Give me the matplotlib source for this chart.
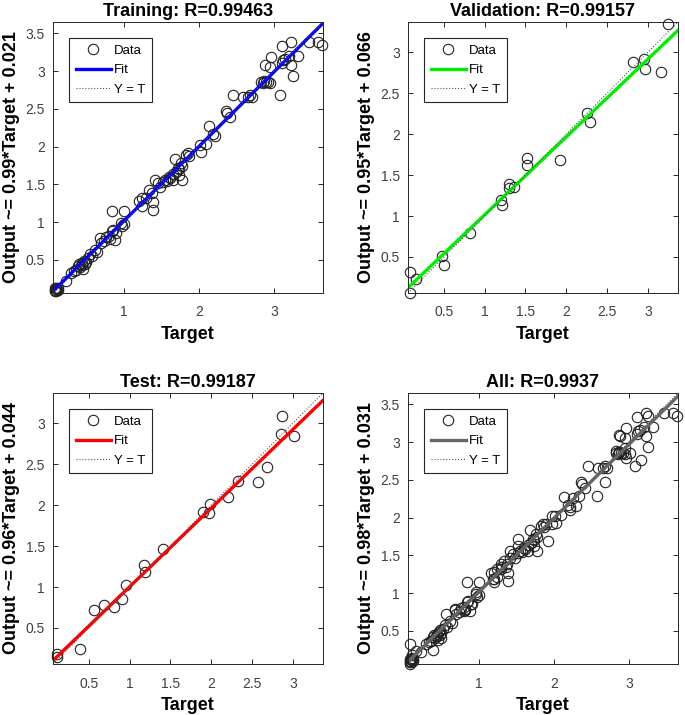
import matplotlib
matplotlib.use("Agg")
import matplotlib.pyplot as plt
import numpy as np
from matplotlib.ticker import FuncFormatter

plt.rcParams['font.family'] = ['Liberation Sans', 'DejaVu Sans']

# Training set (target, output)
train_t = [0.08, 0.09, 0.10, 0.10, 0.11, 0.12, 0.09, 0.13, 0.23,
           0.30, 0.34, 0.36, 0.39, 0.41, 0.42, 0.44, 0.45, 0.46, 0.47, 0.48, 0.50, 0.52,
           0.55, 0.58, 0.62, 0.64,
           0.68, 0.70, 0.74, 0.77, 0.80, 0.82, 0.84, 0.86, 0.88, 0.90,
           0.85, 1.01, 0.96, 0.98, 1.00,
           1.21, 1.25, 1.30, 1.25, 1.34, 1.38, 1.39, 1.39,
           1.42, 1.45, 1.48, 1.52, 1.55, 1.58, 1.60, 1.62, 1.65, 1.66,
           1.68, 1.70, 1.72, 1.74, 1.76, 1.73, 1.77, 1.78,
           1.83, 1.85, 1.87, 2.01, 2.03, 2.10, 2.13, 2.19, 2.22,
           2.36, 2.37, 2.41, 2.45, 2.58, 2.65, 2.68, 2.70,
           2.83, 2.85, 2.87, 2.89, 2.92, 2.95, 2.88, 2.94, 2.96, 3.08,
           3.10, 3.12, 3.15, 3.11, 3.23, 3.23, 3.25, 3.32, 3.20,
           3.47, 3.59, 3.64]
train_y = [0.10, 0.12, 0.09, 0.13, 0.11, 0.10, 0.08, 0.12, 0.22,
           0.32, 0.35, 0.37, 0.42, 0.45, 0.40, 0.46, 0.43, 0.38, 0.48, 0.44, 0.47, 0.52,
           0.58, 0.55, 0.63, 0.60,
           0.79, 0.72, 0.75, 0.80, 0.82, 0.78, 0.88, 0.90, 0.76, 0.86,
           1.15, 1.15, 0.99, 0.95, 0.97,
           1.28, 1.21, 1.32, 1.32, 1.42, 1.39, 1.16, 1.26,
           1.56, 1.52, 1.47, 1.53, 1.56, 1.55, 1.60, 1.58, 1.56, 1.64,
           1.84, 1.66, 1.72, 1.70, 1.78, 1.62, 1.56, 1.74,
           1.89, 1.92, 1.88, 2.02, 1.93, 2.04, 2.27, 2.17, 2.14,
           2.47, 2.44, 2.39, 2.68, 2.65, 2.65, 2.68, 2.65,
           2.86, 2.84, 2.87, 2.85, 2.86, 2.84, 3.08, 3.05, 3.19, 2.68,
           3.11, 3.14, 3.16, 3.33, 3.38, 3.08, 2.93, 3.20, 3.20,
           3.38, 3.38, 3.34]

# Validation set
val_t = [3.25, 0.09, 0.09, 0.16, 0.48, 0.50, 0.82, 1.20, 1.21, 1.30, 1.30,
         1.36, 1.52, 1.52, 1.92, 2.25, 2.29, 2.82, 2.95, 2.96, 3.16]
val_y = [3.35, 0.32, 0.06, 0.23, 0.51, 0.40, 0.79, 1.19, 1.14, 1.39, 1.34,
         1.35, 1.71, 1.62, 1.69, 2.26, 2.15, 2.88, 2.92, 2.79, 2.76]

# Test set
test_t = [0.11, 0.11, 0.39, 0.56, 0.68, 0.81, 0.91, 0.96, 1.17, 1.19, 1.41,
          1.90, 1.97, 1.98, 2.21, 2.33, 2.57, 2.68, 2.86, 2.87, 3.01]
test_y = [0.18, 0.14, 0.24, 0.72, 0.78, 0.76, 0.85, 1.02, 1.27, 1.18, 1.46,
          1.92, 1.91, 2.02, 2.10, 2.29, 2.28, 2.47, 2.87, 3.09, 2.85]

all_t = train_t + val_t + test_t
all_y = train_y + val_y + test_y

titles = ["Training: R=0.99463", "Validation: R=0.99157", "Test: R=0.99187", "All: R=0.9937"]
slopes = [0.99, 0.95, 0.96, 0.98]
intercepts = [0.021, 0.066, 0.044, 0.031]
fit_colors = ["#0000ff", "#00ee00", "#ff0000", "#666666"]
limits = [(0.06, 3.65), (0.06, 3.37), (0.06, 3.37), (0.06, 3.65)]
ticks_x = [[1, 2, 3], [0.5, 1, 1.5, 2, 2.5, 3], [0.5, 1, 1.5, 2, 2.5, 3], [1, 2, 3]]
ticks_y = [[0.5, 1, 1.5, 2, 2.5, 3, 3.5], [0.5, 1, 1.5, 2, 2.5, 3],
           [0.5, 1, 1.5, 2, 2.5, 3], [0.5, 1, 1.5, 2, 2.5, 3, 3.5]]
datasets = [(train_t, train_y), (val_t, val_y), (test_t, test_y), (all_t, all_y)]

fig = plt.figure(figsize=(6.85, 7.15), dpi=100)
W, H = 685, 715
boxes = [(53, 22), (408, 22), (53, 393), (408, 393)]
aw, ah = 270, 271

fmt = FuncFormatter(lambda v, p: "%g" % v)
for i in range(4):
    x0, y0 = boxes[i]
    ax = fig.add_axes([x0 / W, (H - y0 - ah) / H, aw / W, ah / H])
    t, y = datasets[i]
    lo, hi = limits[i]
    ax.plot(t, y, 'o', mfc='none', mec='#222222', ms=7.5, mew=0.8, label='Data', clip_on=False)
    xs = np.array([lo, hi])
    ax.plot(xs, slopes[i] * xs + intercepts[i], '-', color=fit_colors[i], lw=2.4, label='Fit')
    ax.plot(xs, xs, ':', color='#555555', lw=0.8, label='Y = T')
    ax.set_xlim(lo, hi)
    ax.set_ylim(lo, hi)
    ax.set_xticks(ticks_x[i])
    ax.set_yticks(ticks_y[i])
    ax.xaxis.set_major_formatter(fmt)
    ax.yaxis.set_major_formatter(fmt)
    ax.tick_params(direction='in', top=True, right=True, length=3.5, width=0.7,
                   labelsize=10, labelcolor='#404040', color='#262626', pad=6)
    ax.tick_params(axis='x', pad=9)
    for s in ax.spines.values():
        s.set_color('#262626')
        s.set_linewidth(0.7)
    ax.set_title(titles[i], fontsize=13, fontweight='bold', pad=4)
    ax.set_xlabel('Target', fontsize=13, fontweight='bold', labelpad=5)
    ax.set_ylabel('Output ~= %.2f*Target + %s' % (slopes[i], ("%.3f" % intercepts[i])),
                  fontsize=13, fontweight='bold', labelpad=4)
    leg = ax.legend(loc='upper left', bbox_to_anchor=(0.059, 0.941), borderaxespad=0,
                    fontsize=9.5, fancybox=False, framealpha=1, edgecolor='#262626',
                    handlelength=2.7, handletextpad=0.2, labelspacing=0.55, borderpad=0.5)
    leg.get_frame().set_linewidth(0.8)

fig.savefig('out.png', dpi=100)
